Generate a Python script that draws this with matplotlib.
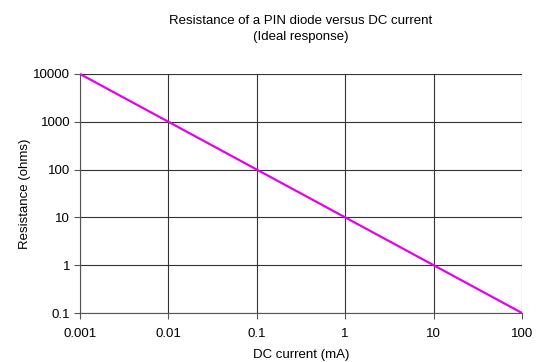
import matplotlib
matplotlib.use("Agg")
import matplotlib.pyplot as plt
from matplotlib.ticker import FixedLocator, FixedFormatter, NullLocator

current_mA = [0.001, 100]
resistance_ohms = [10000, 0.1]
x_ticks = [0.001, 0.01, 0.1, 1, 10, 100]
x_labels = ["0.001", "0.01", "0.1", "1", "10", "100"]
y_ticks = [0.1, 1, 10, 100, 1000, 10000]
y_labels = ["0.1", "1", "10", "100", "1000", "10000"]

plt.rcParams['font.family'] = ['Liberation Sans', 'DejaVu Sans']

W, H = 549, 362
fig = plt.figure(figsize=(W/100, H/100), dpi=100)
l, r, t, b = 80, 522, 74, 313
ax = fig.add_axes([l/W, 1 - b/H, (r-l)/W, (b-t)/H])

ax.plot(current_mA, resistance_ohms, color='#E600F0', lw=1.6, solid_capstyle='butt', zorder=3, clip_on=False)
ax.set_xscale('log')
ax.set_yscale('log')
ax.set_xlim(0.001, 100)
ax.set_ylim(0.1, 10000)
ax.xaxis.set_major_locator(FixedLocator(x_ticks))
ax.xaxis.set_major_formatter(FixedFormatter(x_labels))
ax.yaxis.set_major_locator(FixedLocator(y_ticks))
ax.yaxis.set_major_formatter(FixedFormatter(y_labels))
ax.xaxis.set_minor_locator(NullLocator())
ax.yaxis.set_minor_locator(NullLocator())
ax.grid(True, color='#333333', lw=0.8)
for s in ['top', 'right']:
    ax.spines[s].set_visible(False)
for s in ['left', 'bottom']:
    ax.spines[s].set_color('#555555')
    ax.spines[s].set_linewidth(0.8)
ax.tick_params(axis='both', direction='out', length=4, width=0.8, color='#555555', labelsize=9.5, pad=3)
ax.tick_params(axis='x', pad=7)

ax.set_xlabel('DC current (mA)', fontsize=9.5, labelpad=6)
ax.set_ylabel('Resistance (ohms)', fontsize=9.5, labelpad=2)
fig.text((l+r)/2/W, 1 - 29/H, 'Resistance of a PIN diode versus DC current\n(Ideal response)',
         ha='center', va='center', fontsize=9.5, linespacing=1.5)

fig.savefig('out.png', dpi=100)
